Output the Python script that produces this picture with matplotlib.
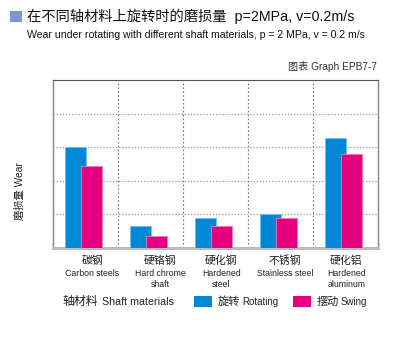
import matplotlib
matplotlib.use("Agg")
import matplotlib.pyplot as plt
from matplotlib.patches import Rectangle
import numpy as np

categories_cn = ["碳钢", "硬铬钢", "硬化钢", "不锈钢", "硬化铝"]
categories_en = ["Carbon steels", "Hard chrome\nshaft", "Hardened\nsteel", "Stainless steel", "Hardened\naluminum"]
rotating = [3.0, 0.66, 0.9, 1.0, 3.27]
swing = [2.43, 0.37, 0.66, 0.9, 2.79]
series_cn = ["旋转", "摆动"]
series_en = ["Rotating", "Swing"]

CJK = ['Noto Sans CJK SC', 'DejaVu Sans']
SANS = ['Liberation Sans', 'Noto Sans CJK SC', 'DejaVu Sans']

blue = "#0088D6"
pink = "#E4007F"

W, H = 400, 360
fig = plt.figure(figsize=(W/100, H/100), dpi=100)

ax = fig.add_axes([53/W, 1-248/H, 325/W, 168/H])
x = np.arange(len(categories_cn))
bw = 0.33
ax.bar(x - 0.155, rotating, width=bw, color=blue, edgecolor="#6CC0EE", linewidth=0.6, zorder=3)
ax.bar(x + 0.09, swing, width=bw, color=pink, edgecolor="#F07AB8", linewidth=0.6, zorder=4)
ax.set_xlim(-0.5, len(categories_cn) - 0.5)
ax.set_ylim(0, 5)
for yv in [1, 2, 3, 4]:
    ax.axhline(yv, color="#999999", linestyle=(0, (1, 1.5)), linewidth=0.9, zorder=1)
for xv in np.arange(0.5, len(categories_cn) - 0.5, 1):
    ax.axvline(xv, color="#777777", linestyle=(0, (1.5, 2)), linewidth=0.8, zorder=1)
ax.set_xticks([])
ax.set_yticks([])
for s in ["left", "right"]:
    ax.spines[s].set_color("#888888")
    ax.spines[s].set_linewidth(1.0)
ax.spines["top"].set_color("#555555")
ax.spines["top"].set_linewidth(0.8)
ax.spines["bottom"].set_color("#BBBBBB")
ax.spines["bottom"].set_linewidth(2.2)

# category labels (positioned as in the reference, slightly right of the groups)
label_x = [92.5, 160, 221.5, 285, 346.5]
for lx, cn, en in zip(label_x, categories_cn, categories_en):
    fig.text(lx/W, 1 - 261/H, cn, ha="center", va="center", fontsize=7.8, family=CJK, color="#222222")
    fig.text(lx/W, 1 - 268.5/H, en, ha="center", va="top", fontsize=6.3, family=SANS,
             color="#222222", linespacing=1.4)

# title
fig.patches.append(Rectangle((10/W, 1-22/H), 12/W, 11/H, transform=fig.transFigure,
                             facecolor="#7F93CC", edgecolor="none"))
fig.text(27/W, 1-16.5/H, "在不同轴材料上旋转时的磨损量  p=2MPa, v=0.2m/s", ha="left", va="center",
         fontsize=10.3, family=SANS, color="#111111")
fig.text(27/W, 1-35/H, "Wear under rotating with different shaft materials, p = 2 MPa, v = 0.2 m/s",
         ha="left", va="center", fontsize=7.6, family=SANS, color="#111111")
fig.text(377/W, 1-66/H, "图表 Graph EPB7-7", ha="right", va="center", fontsize=7.3,
         family=SANS, color="#333333")

# y label
fig.text(20/W, 1-191/H, "磨损量 Wear", rotation=90, ha="center", va="center", fontsize=7.4,
         family=SANS, color="#222222")

# legend row
fig.text(62/W, 1-302/H, "轴材料", ha="left", va="center", fontsize=8.6, family=CJK, color="#222222")
fig.text(102/W, 1-302/H, "Shaft materials", ha="left", va="center", fontsize=7.7,
         family=SANS, color="#222222")
legend_items = [(194, blue, series_cn[0], series_en[0], 242, 7.0),
                (293, pink, series_cn[1], series_en[1], 341, 7.0)]
for px, col, cn, en, ex, fs in legend_items:
    fig.patches.append(Rectangle((px/W, 1-307/H), 18/W, 11/H, transform=fig.transFigure,
                                 facecolor=col, edgecolor="none"))
    fig.text((px + 23.5)/W, 1-302/H, cn, ha="left", va="center", fontsize=8.0,
             family=CJK, color="#222222")
    fig.text(ex/W, 1-302/H, en, ha="left", va="center", fontsize=fs,
             family=SANS, color="#222222")

fig.savefig("out.png", dpi=100)
